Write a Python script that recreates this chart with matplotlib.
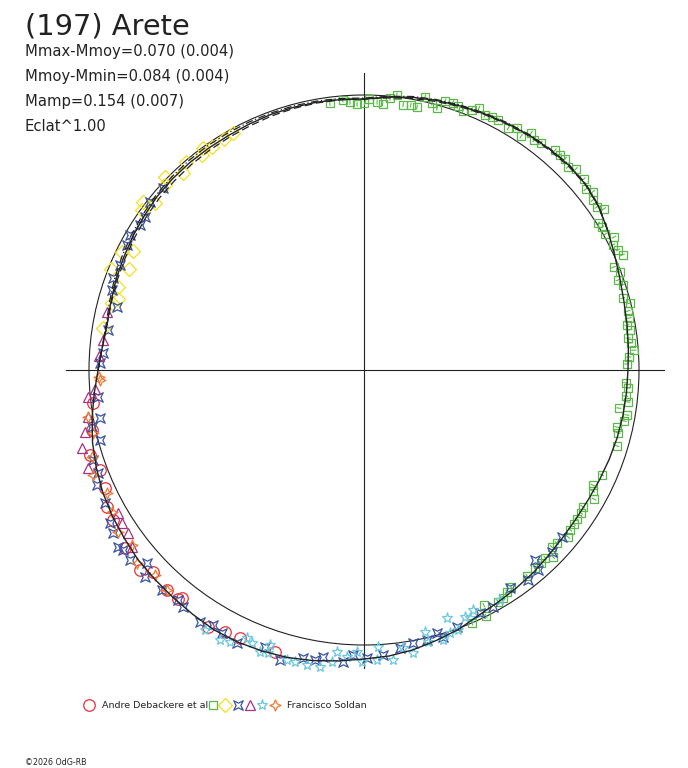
import numpy as np
import matplotlib
matplotlib.use("Agg")
import matplotlib.pyplot as plt
from matplotlib.patches import Circle
from matplotlib.path import Path
from matplotlib.collections import LineCollection

plt.rcParams['font.family'] = ['DejaVu Sans']

# Polar lightcurve of (197) Arete: (phase in degrees, relative flux in % of mean)
debackere = [(263, 99.3), (257.6, 101.3), (252.8, 104.4), (249.3, 102.5), (245.5, 103.5),
             (241.9, 105.8), (239.1, 106.2), (233.3, 108.4), (228.2, 109.1), (226.3, 106.2),
             (221.8, 107.3), (219.1, 107.3), (218.6, 106.1), (211.3, 109.3), (207.9, 107.9),
             (204.8, 107.3), (197.5, 107.5)]

green = [(352.7, 97.8), (355.5, 98.5), (357, 97.5), (358.5, 96.7), (0, 97.1), (1, 98.5),
         (2.8, 97.5), (4, 97.1), (5.5, 99.3), (6.8, 100.7), (8.4, 97.5), (10, 97.8),
         (11.4, 97.5), (12.6, 101.8), (14.3, 100.2), (15.6, 98.9), (16.8, 102.2), (18.4, 102.5),
         (19.6, 101.8), (20.9, 100.7), (22.5, 102.5), (23.7, 104.0), (25.4, 102.5), (26.8, 103.1),
         (28.2, 103.1), (30.8, 102.4), (32.3, 104.0), (33.9, 102.5), (35.2, 105.5), (36.5, 104.0),
         (37.9, 104.7), (41, 105.8), (42.4, 105.8), (43.6, 106.0), (45.1, 104.7), (46.5, 106.2),
         (49, 105.8), (50.8, 104.0), (52.1, 105.5), (53.4, 103.6), (55, 103.3), (56.1, 105.1),
         (57.9, 100.4), (59, 101.0), (60.6, 100.6), (62, 102.9), (63.3, 101.3), (64.7, 102.2),
         (66, 102.9), (67.6, 98.2), (69, 99.6), (70.5, 98.0), (71.8, 99.1), (74.5, 97.7),
         (75.9, 99.6), (77.4, 98.4), (78.9, 98.2), (80.3, 97.0), (81.4, 97.8), (83.1, 96.7),
         (84.2, 97.5), (85.8, 98.4), (87.2, 96.4), (88.7, 95.6), (92.8, 95.3), (93.9, 96.2),
         (95.7, 95.6), (96.9, 96.7), (98.5, 93.7), (99.7, 97.0), (101.1, 96.4), (102.7, 94.2),
         (103.9, 95.2), (106.7, 96.0), (113.8, 94.5), (116.7, 93.1), (117.9, 94.2), (119.3, 95.9),
         (122, 93.8), (123.4, 94.5), (125, 94.5), (126.3, 94.7), (127.8, 94.8), (129.3, 95.9),
         (131.9, 94.2), (133.3, 93.8), (134.7, 96.7), (136, 94.9), (137.5, 95.3), (139.2, 95.1),
         (141.6, 95.5), (145.9, 95.3), (147.2, 96.0), (148.6, 97.1), (150, 97.5), (153, 96.0),
         (153.6, 99.9), (156.9, 100.0)]

yellow = [(331.1, 98.5), (328.8, 98.2), (325.7, 98.2), (324, 99.6), (323, 97.8), (319.4, 99.6),
          (317.4, 97.3), (314.1, 100.7), (312.9, 98.8), (307.2, 100.9), (308.6, 97.3), (305.8, 99.5),
          (296, 97.8), (297.3, 94.5), (293.3, 93.0), (291.8, 99.1), (288.6, 94.4), (284.9, 94.8),
          (286.1, 93.1), (279.1, 96.0)]

blue = [(312.2, 98.5), (308.1, 98.9), (304.9, 97.1), (302.9, 97.0), (300, 98.2), (297.8, 97.5),
        (293.3, 96.6), (290.1, 97.1), (287.6, 96.0), (284.3, 92.7), (278.9, 94.2), (273.7, 95.1),
        (271.5, 96.0), (264.3, 97.3), (259.7, 97.5), (258.2, 101.1), (255.1, 99.3), (251.6, 103.8),
        (248.8, 103.6), (246.7, 105.7), (242.8, 105.8), (238.9, 107.8), (237, 108.7), (234.3, 110.2),
        (233.2, 109.4), (230.9, 109.6), (228.4, 105.5), (226.6, 109.5), (222.6, 108.6), (218.9, 107.6),
        (217.4, 108.4), (213, 109.3), (210.6, 107.6), (208.4, 108.7), (204.9, 109.5), (199.7, 106.9),
        (196.2, 109.8), (192, 106.9), (189.6, 106.9), (188.1, 105.5), (184.1, 106.4), (182.2, 103.6),
        (179.4, 104.7), (176.2, 103.9), (172.6, 101.8), (169.8, 100.7), (166.9, 100.7), (164.5, 99.3),
        (163.5, 101.1), (160.1, 99.3), (154.5, 97.8), (151.4, 98.2), (146.2, 95.3), (142, 96.9),
        (139, 96.4), (138, 92.9), (134, 95.2), (130.1, 94.2)]

purple = [(264.4, 100.7), (260.3, 101.8), (257.5, 103.9), (254.5, 106.4), (250.4, 106.5),
          (282.7, 95.8), (276.6, 95.5), (273, 96.4), (239.8, 103.5), (237.7, 104.0),
          (235.4, 104.3), (232.7, 106.1), (266, 98.2)]

cyan = [(211.4, 110.8), (208.1, 111.3), (206.2, 110.2), (202.3, 107.3), (200.2, 109.3), (198.9, 105.7),
        (194.9, 109.1), (193.3, 109.1), (190.9, 109.3), (188.4, 109.1), (185.5, 102.9), (186.3, 106.8),
        (183.4, 104.5), (181.4, 102.5), (180.4, 106.2), (177.1, 100.9), (177.4, 105.6), (174.3, 106.0),
        (172, 102.1), (170.2, 104.4), (166.9, 97.8), (166.8, 101.6), (163.7, 102.2), (161.5, 95.1),
        (161.9, 100.6), (160.1, 100.5), (157.8, 97.1), (156.9, 98.1), (155.6, 95.9), (149.4, 97.1),
        (203.6, 106.3), (198.7, 108.7)]

soldan = [(267.8, 96.0), (260.3, 101.8), (256.9, 101.1), (252.3, 103.9), (248.8, 105.7), (244.4, 103.6),
          (240.6, 105.1), (236.6, 107.1), (233, 105.7), (229.6, 108.4), (225.6, 106.5), (221.8, 107.3),
          (268.5, 96.4)]

# fitted curve, every 5 degrees of phase from 0 to 355
fit_phase = np.arange(0, 360, 5)
fit_flux = [98.5, 99.6, 100.7, 101.5, 102.2, 102.9, 103.6, 104.4, 104.9, 105.3, 105.1, 104.0,
            102.2, 100.4, 98.9, 97.8, 97.1, 96.5, 96.0, 95.8, 95.6, 95.3, 94.9, 94.5,
            94.2, 94.2, 94.5, 95.1, 96.0, 96.7, 97.5, 98.5, 100.4, 101.8, 103.3, 104.4,
            105.1, 106.2, 107.3, 108.2, 108.7, 109.1, 109.1, 108.5, 108.0, 107.6, 107.3, 106.5,
            105.8, 104.9, 103.6, 102.2, 100.4, 98.5, 96.7, 95.5, 94.9, 95.3, 96.0, 96.5,
            97.1, 97.6, 98.2, 98.4, 98.5, 98.5, 98.5, 98.7, 98.9, 98.9, 98.9, 98.7]

# alternative fits, only where they separate from the main one (phase 270 -> 420)
alt_phase = np.arange(270, 425, 5)
alt1_flux = [96.7, 95.5, 94.9, 95.1, 95.5, 95.9, 96.3, 96.8, 97.2, 97.4, 97.6, 97.7, 97.8, 98.0,
             98.3, 98.5, 98.6, 98.6, 98.6, 99.3, 100.3, 101.1, 101.9, 102.7, 103.4, 104.1, 104.6,
             105.0, 105.0, 104.0, 102.2]
alt2_flux = [96.7, 95.6, 95.2, 95.8, 96.6, 97.2, 97.8, 98.3, 98.8, 99.1, 99.3, 99.4, 99.4, 99.4,
             99.4, 99.4, 99.3, 99.1, 98.9, 99.9, 101.0, 101.8, 102.5, 103.2, 103.9, 104.6, 105.1,
             105.5, 105.3, 104.2, 102.2]

info_lines = ["Mmax-Mmoy=0.070 (0.004)", "Mmoy-Mmin=0.084 (0.004)",
              "Mamp=0.154 (0.007)", "Eclat^1.00"]


def to_xy(phase, flux):
    t = np.radians(np.asarray(phase, dtype=float))
    r = np.asarray(flux, dtype=float) / 100.0
    return r * np.sin(t), r * np.cos(t)


# marker shapes
quad_x = Path([(1, 1), (0, 0.5), (-1, 1), (-0.5, 0), (-1, -1), (0, -0.5), (1, -1), (0.5, 0), (1, 1)],
              [Path.MOVETO] + [Path.LINETO] * 7 + [Path.CLOSEPOLY])
quad_plus = Path([(0, 1), (0.3, 0.3), (1, 0), (0.3, -0.3), (0, -1), (-0.3, -0.3), (-1, 0), (-0.3, 0.3), (0, 1)],
                 [Path.MOVETO] + [Path.LINETO] * 7 + [Path.CLOSEPOLY])

styles = [
    (debackere, '#e8303a', 'o', 8.3),
    (green, '#5cb848', 's', 5.6),
    (yellow, '#f0e020', 'D', 7.2),
    (blue, '#3a52a4', quad_x, 6.8),
    (purple, '#a83282', '^', 7.4),
    (cyan, '#6cc8de', '*', 8.0),
    (soldan, '#f27a30', quad_plus, 8.0),
]

W, H = 688, 768
fig = plt.figure(figsize=(W / 100, H / 100), dpi=100)
cx, cy, R, L = 364, 370, 275, 1.2
ax = fig.add_axes([(cx - L * R) / W, (H - cy - L * R) / H, 2 * L * R / W, 2 * L * R / H])
ax.set_xlim(-L, L)
ax.set_ylim(-L, L)
ax.set_aspect('equal')
ax.axis('off')

ax.plot([-1.084, 1.091], [0, 0], color='#222222', lw=0.8, zorder=1)
ax.plot([0, 0], [-1.084, 1.08], color='#222222', lw=0.8, zorder=1)
ax.add_patch(Circle((0, 0), 1.0, fill=False, ec='#222222', lw=0.8, zorder=1))

for pts, col, mk, ms in styles:
    ph, fl = zip(*pts)
    x, y = to_xy(ph, fl)
    ax.plot(x, y, ls='none', marker=mk, ms=ms, mfc='none', mec=col, mew=0.9, zorder=3)

# small radial tick inside the green squares
ph, fl = zip(*green)
t = np.radians(ph)
r = np.asarray(fl) / 100.0
segs = [[((ri - 0.009) * np.sin(ti), (ri - 0.009) * np.cos(ti)),
         ((ri + 0.009) * np.sin(ti), (ri + 0.009) * np.cos(ti))] for ti, ri in zip(t, r)]
ax.add_collection(LineCollection(segs, colors='#5cb848', linewidths=0.8, zorder=3))

fx, fy = to_xy(np.append(fit_phase, 360), np.append(fit_flux, fit_flux[0]))
ax.plot(fx, fy, color='#222222', lw=1.0, zorder=4)
ax1x, ax1y = to_xy(alt_phase, alt1_flux)
ax.plot(ax1x, ax1y, color='#222222', lw=0.9, ls=(0, (6, 3)), zorder=4)
ax2x, ax2y = to_xy(alt_phase, alt2_flux)
ax.plot(ax2x, ax2y, color='#222222', lw=0.9, ls=(0, (6, 2, 1, 2)), zorder=4)

# header text
fig.text(25 / W, 1 - 34 / H, "(197) Arete", fontsize=20.8, color='#222222', va='baseline')
for i, s in enumerate(info_lines):
    fig.text(25 / W, 1 - (56 + 25 * i) / H, s, fontsize=10.6, color='#222222', va='baseline')

# legend row and footer on an overlay in figure pixels
ov = fig.add_axes([0, 0, 1, 1])
ov.set_xlim(0, W)
ov.set_ylim(H, 0)
ov.axis('off')
leg_x = [89, 213, 225, 238, 250, 262, 275]
for (pts, col, mk, ms), lx in zip(styles, leg_x):
    ov.plot([lx], [705], ls='none', marker=mk, ms=ms, mfc='none', mec=col, mew=0.9)
ov.text(102, 708.5, "Andre Debackere et al", fontsize=6.8, color='#222222', va='baseline')
ov.text(287, 708.5, "Francisco Soldan", fontsize=6.8, color='#222222', va='baseline')
ov.text(25, 765, "\u00a92026 OdG-RB", fontsize=5.7, color='#222222', va='baseline')

fig.savefig('out.png', dpi=100, facecolor='white')
